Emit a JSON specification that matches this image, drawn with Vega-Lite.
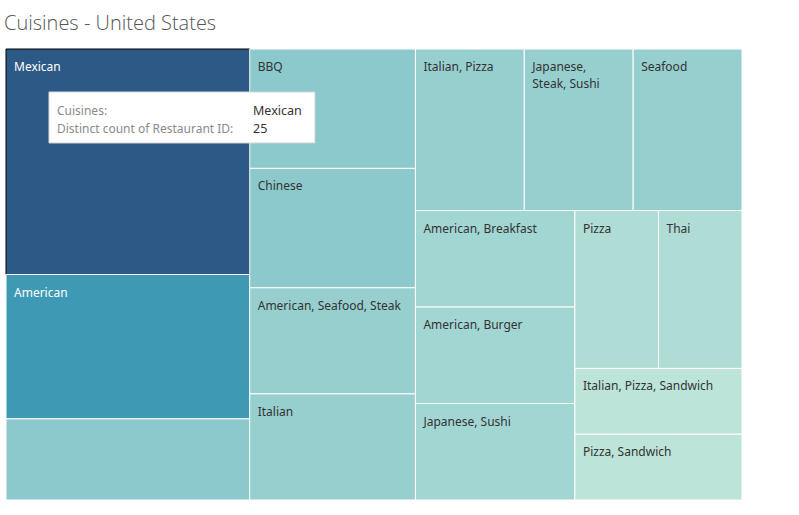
{
  "$schema": "https://vega.github.io/schema/vega-lite/v6.json",
  "width": 736,
  "height": 451,
  "autosize": {"type": "none"},
  "padding": {"left": 6, "top": 49, "right": 57, "bottom": 15},
  "background": "white",
  "config": {"view": {"stroke": null}},
  "title": {
    "text": "Cuisines - United States",
    "anchor": "start",
    "frame": "group",
    "baseline": "alphabetic",
    "offset": -1,
    "dx": -2,
    "font": "Open Sans",
    "fontSize": 20,
    "fontWeight": 300,
    "color": "#555555"
  },
  "datasets": {
    "cells": [
      {"name": "Mexican", "label": "Mexican", "restaurants": 25, "x0": 0, "x1": 0.33113, "y0": 0, "y1": 0.5},
      {"name": "American", "label": "American", "restaurants": 16, "x0": 0, "x1": 0.33113, "y0": 0.5, "y1": 0.82},
      {"name": "Other", "label": "", "restaurants": 9, "x0": 0, "x1": 0.33113, "y0": 0.82, "y1": 1},
      {"name": "BBQ", "label": "BBQ", "restaurants": 9, "x0": 0.33113, "x1": 0.55629, "y0": 0, "y1": 0.26471},
      {"name": "Chinese", "label": "Chinese", "restaurants": 9, "x0": 0.33113, "x1": 0.55629, "y0": 0.26471, "y1": 0.52941},
      {"name": "American, Seafood, Steak", "label": "American, Seafood, Steak", "restaurants": 8, "x0": 0.33113, "x1": 0.55629, "y0": 0.52941, "y1": 0.76471},
      {"name": "Italian", "label": "Italian", "restaurants": 8, "x0": 0.33113, "x1": 0.55629, "y0": 0.76471, "y1": 1},
      {"name": "Italian, Pizza", "label": "Italian, Pizza", "restaurants": 8, "x0": 0.55629, "x1": 0.70419, "y0": 0, "y1": 0.35821},
      {"name": "Japanese, Steak, Sushi", "label": "Japanese,\nSteak, Sushi", "restaurants": 8, "x0": 0.70419, "x1": 0.8521, "y0": 0, "y1": 0.35821},
      {"name": "Seafood", "label": "Seafood", "restaurants": 8, "x0": 0.8521, "x1": 1, "y0": 0, "y1": 0.35821},
      {"name": "American, Breakfast", "label": "American, Breakfast", "restaurants": 7, "x0": 0.55629, "x1": 0.77299, "y0": 0.35821, "y1": 0.57214},
      {"name": "American, Burger", "label": "American, Burger", "restaurants": 7, "x0": 0.55629, "x1": 0.77299, "y0": 0.57214, "y1": 0.78607},
      {"name": "Japanese, Sushi", "label": "Japanese, Sushi", "restaurants": 7, "x0": 0.55629, "x1": 0.77299, "y0": 0.78607, "y1": 1},
      {"name": "Pizza", "label": "Pizza", "restaurants": 6, "x0": 0.77299, "x1": 0.8865, "y0": 0.35821, "y1": 0.70828},
      {"name": "Thai", "label": "Thai", "restaurants": 6, "x0": 0.8865, "x1": 1, "y0": 0.35821, "y1": 0.70828},
      {"name": "Italian, Pizza, Sandwich", "label": "Italian, Pizza, Sandwich", "restaurants": 5, "x0": 0.77299, "x1": 1, "y0": 0.70828, "y1": 0.85414},
      {"name": "Pizza, Sandwich", "label": "Pizza, Sandwich", "restaurants": 5, "x0": 0.77299, "x1": 1, "y0": 0.85414, "y1": 1}
    ],
    "tip": [
      {"x0": 0.0584, "x1": 0.4198, "y0": 0.0953, "y1": 0.2084}
    ],
    "tiptext": [
      {"key": "Cuisines:", "val": "Mexican", "kx": 0.0693, "vx": 0.3356, "ty": 0.1375},
      {"key": "Distinct count of Restaurant ID:", "val": "25", "kx": 0.0693, "vx": 0.3356, "ty": 0.1774}
    ]
  },
  "layer": [
    {
      "data": {"name": "cells"},
      "mark": {"type": "rect", "strokeWidth": 1},
      "encoding": {
        "x": {"field": "x0", "type": "quantitative", "scale": {"domain": [0, 1], "nice": false, "zero": false}, "axis": null},
        "x2": {"field": "x1"},
        "y": {"field": "y0", "type": "quantitative", "scale": {"domain": [0, 1], "nice": false, "zero": false, "reverse": true}, "axis": null},
        "y2": {"field": "y1"},
        "color": {
          "field": "restaurants",
          "type": "quantitative",
          "scale": {
            "domain": [5, 25],
            "range": ["#bce4d8", "#aedcd5", "#a1d5d2", "#95cecf", "#89c8cc", "#7ec1ca", "#72bac6", "#66b2c2", "#59acbe", "#4ba5ba", "#419eb6", "#3b96b2", "#358ead", "#3586a7", "#347ea1", "#32779b", "#316f96", "#2f6790", "#2d608a", "#2c5985"],
            "interpolate": "rgb"
          },
          "legend": null
        },
        "stroke": {
          "condition": {"test": "datum.name === 'Mexican'", "value": "#000000"},
          "value": "#ffffff"
        },
        "tooltip": [
          {"field": "name", "title": "Cuisines"},
          {"field": "restaurants", "title": "Distinct count of Restaurant ID"}
        ]
      }
    },
    {
      "data": {"name": "cells"},
      "mark": {"type": "text", "align": "left", "baseline": "top", "dx": 8, "dy": 13, "font": "Noto Sans", "fontSize": 12, "lineBreak": "\n", "lineHeight": 17},
      "encoding": {
        "x": {"field": "x0", "type": "quantitative"},
        "y": {"field": "y0", "type": "quantitative"},
        "text": {"field": "label"},
        "color": {
          "condition": {"test": "datum.restaurants >= 15", "value": "#ffffff"},
          "value": "#333333"
        }
      }
    },
    {
      "data": {"name": "tip"},
      "mark": {"type": "rect", "xOffset": 2, "yOffset": 2, "color": "#000000", "opacity": 0.12},
      "encoding": {
        "x": {"field": "x0", "type": "quantitative"},
        "x2": {"field": "x1"},
        "y": {"field": "y0", "type": "quantitative"},
        "y2": {"field": "y1"}
      }
    },
    {
      "data": {"name": "tip"},
      "mark": {"type": "rect", "color": "#ffffff", "stroke": "#d4d4d4", "strokeWidth": 1},
      "encoding": {
        "x": {"field": "x0", "type": "quantitative"},
        "x2": {"field": "x1"},
        "y": {"field": "y0", "type": "quantitative"},
        "y2": {"field": "y1"}
      }
    },
    {
      "data": {"name": "tiptext"},
      "mark": {"type": "text", "align": "left", "baseline": "middle", "font": "Noto Sans", "fontSize": 12, "color": "#8a8a8a"},
      "encoding": {
        "x": {"field": "kx", "type": "quantitative"},
        "y": {"field": "ty", "type": "quantitative"},
        "text": {"field": "key"}
      }
    },
    {
      "data": {"name": "tiptext"},
      "mark": {"type": "text", "align": "left", "baseline": "middle", "font": "Noto Sans", "fontSize": 12.5, "color": "#333333"},
      "encoding": {
        "x": {"field": "vx", "type": "quantitative"},
        "y": {"field": "ty", "type": "quantitative"},
        "text": {"field": "val"}
      }
    }
  ]
}
